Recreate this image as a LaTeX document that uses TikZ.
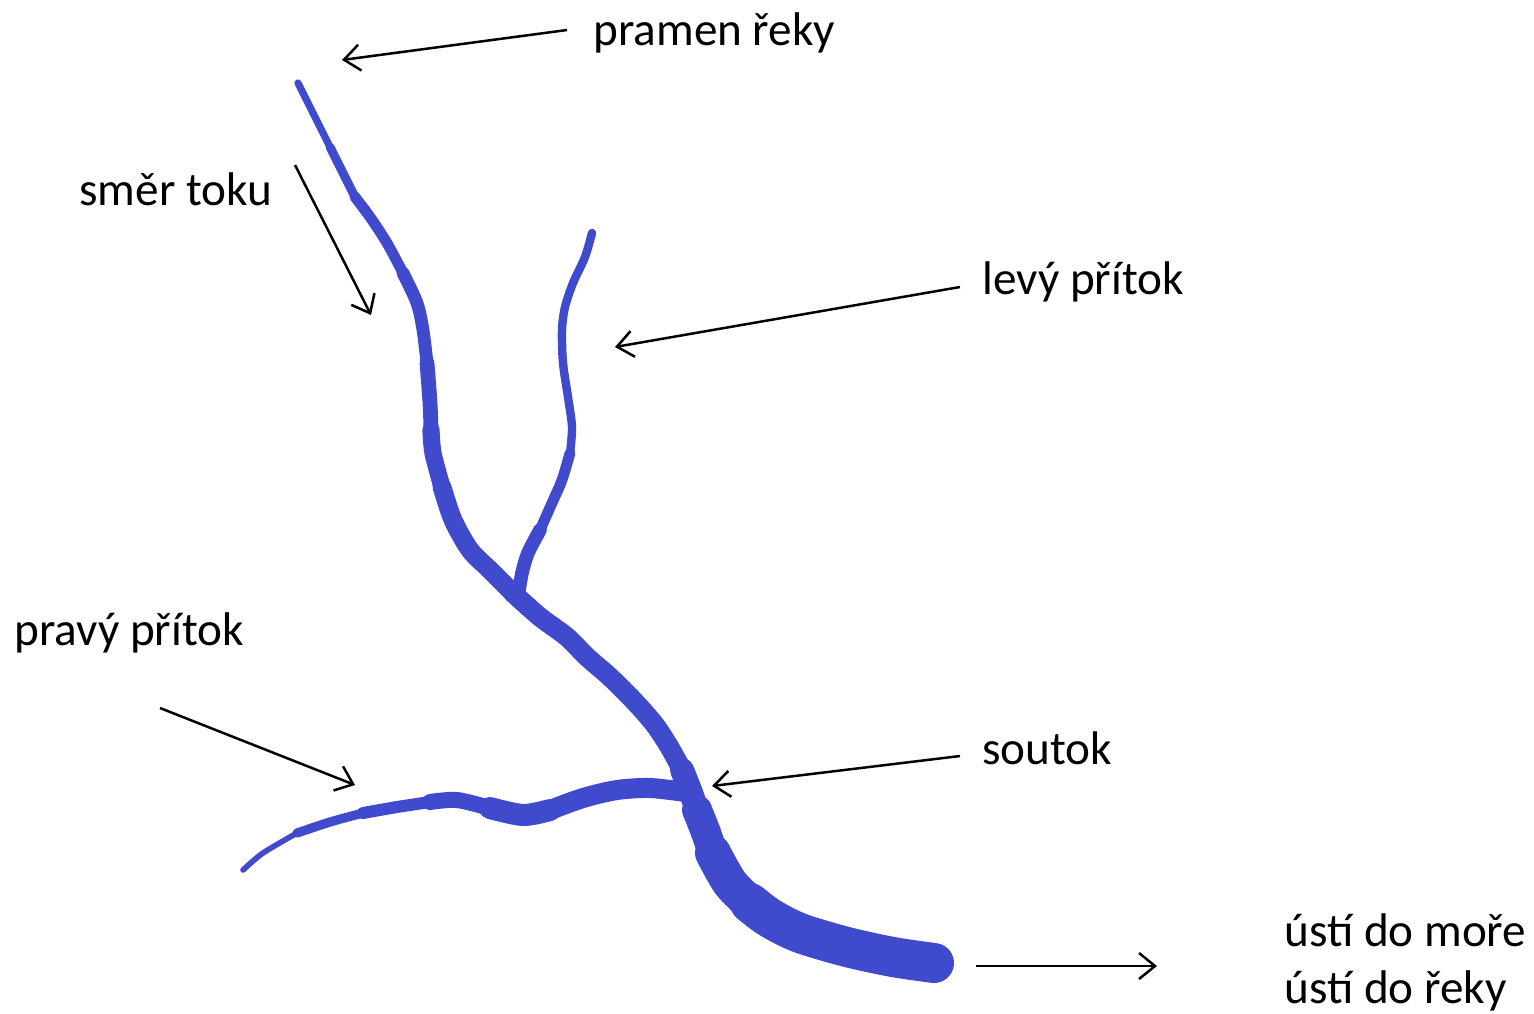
\documentclass[tikz,border=0pt]{standalone}
\usepackage{fontspec}
\setmainfont{Carlito}
\usetikzlibrary{arrows.meta}
\definecolor{riverblue}{RGB}{64,74,204}
\tikzset{
  river/.style={draw=riverblue, line cap=round, line join=round},
  ptr/.style={draw=black, line width=1.25pt, -{Straight Barb[length=8pt,width=13pt,line width=1.25pt]}},
  lbl/.style={anchor=base west, inner sep=0pt, font=\fontsize{23.6}{28}\selectfont}
}
\begin{document}
\begin{tikzpicture}[x=0.5pt,y=-0.5pt]
\useasboundingbox[fill=white] (0,0) rectangle (1534,1013);
% main river
\draw[river, line width=3.6pt] plot[smooth] coordinates {(298,83) (313,113) (330,147)};
\draw[river, line width=4.4pt] plot[smooth] coordinates {(330,147) (343,173) (355,197)};
\draw[river, line width=5.4pt] plot[smooth] coordinates {(355,197) (370,217) (387,243) (403,273)};
\draw[river, line width=6.4pt] plot[smooth] coordinates {(403,273) (417,303) (423,330) (427,363)};
\draw[river, line width=7.4pt] plot[smooth] coordinates {(427,363) (430,403) (431,430)};
\draw[river, line width=8.6pt] plot[smooth] coordinates {(431,430) (433,453) (442,487)};
\draw[river, line width=9.4pt] plot[smooth] coordinates {(442,487) (453,520) (470,550) (490,570) (513,593)};
\draw[river, line width=9.8pt] plot[smooth] coordinates {(513,593) (540,617) (567,637) (587,657) (610,677) (635,702) (655,725) (670,748) (682,770)};
\draw[river, line width=12pt] plot[smooth] coordinates {(682,770) (690,790) (697,810)};
\draw[river, line width=15pt] plot[smooth] coordinates {(697,810) (705,830) (713,853)};
\draw[river, line width=18pt] plot[smooth] coordinates {(713,853) (730,883) (750,903)};
\draw[river, line width=20pt] plot[smooth] coordinates {(750,903) (770,918) (800,933) (847,947) (893,957) (934,963)};
% left tributary
\draw[river, line width=4.2pt] plot[smooth] coordinates {(592,233) (585,257) (573,283) (565,307) (562,330) (563,363) (568,397) (572,427) (570,453)};
\draw[river, line width=5.4pt] plot[smooth] coordinates {(570,453) (562,480) (552,503) (540,530)};
\draw[river, line width=6.8pt] plot[smooth] coordinates {(540,530) (528,553) (522,573) (518,597)};
% right tributary
\draw[river, line width=2.8pt] plot[smooth] coordinates {(243,870) (263,853) (297,833)};
\draw[river, line width=4.6pt] plot[smooth] coordinates {(297,833) (330,822) (363,813)};
\draw[river, line width=6pt] plot[smooth] coordinates {(363,813) (397,807) (430,802)};
\draw[river, line width=8pt] plot[smooth] coordinates {(430,802) (457,800) (490,808)};
\draw[river, line width=11pt] plot[smooth] coordinates {(490,808) (523,815) (550,810)};
\draw[river, line width=10pt] plot[smooth] coordinates {(550,810) (583,798) (617,790) (650,788) (685,792)};
% labels
\node[lbl] (pramen) at (593,45) {pramen řeky};
\node[lbl] (smer) at (79,205) {směr toku};
\node[lbl] (levy) at (982,294) {levý přítok};
\node[lbl] (pravy) at (14,645) {pravý přítok};
\node[lbl] (soutok) at (982,764) {soutok};
\node[lbl] (usti1) at (1284,946) {ústí do moře};
\node[lbl] (usti2) at (1284,1003) {ústí do řeky};
% arrow endpoints
\coordinate (p1) at (567,30); \coordinate (p2) at (342,60);
\coordinate (s1) at (295,165); \coordinate (s2) at (371,315);
\coordinate (l1) at (960,287); \coordinate (l2) at (615,347);
\coordinate (r1) at (160,708); \coordinate (r2) at (355,785);
\coordinate (k1) at (960,756); \coordinate (k2) at (712,786);
\coordinate (u1) at (976,966); \coordinate (u2) at (1157,966);
\draw[ptr] (p1) -- (p2);
\draw[ptr] (s1) -- (s2);
\draw[ptr] (l1) -- (l2);
\draw[ptr] (r1) -- (r2);
\draw[ptr] (k1) -- (k2);
\draw[ptr] (u1) -- (u2);
\end{tikzpicture}
\end{document}
